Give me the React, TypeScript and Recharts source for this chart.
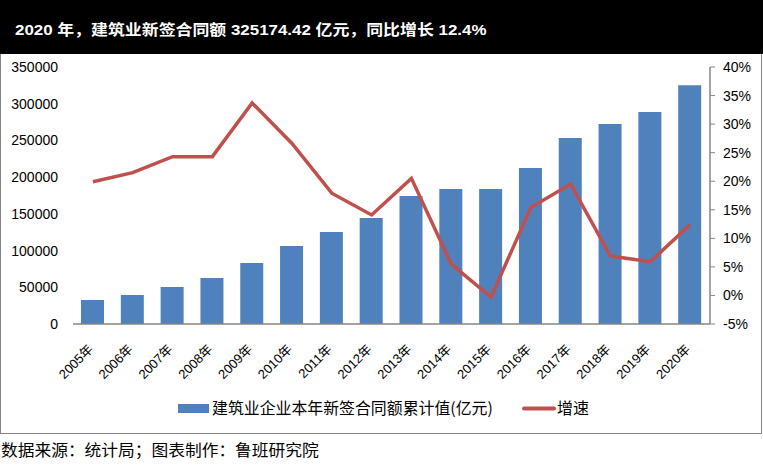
import React, { useLayoutEffect, useRef, useState } from "react";
import { ComposedChart, Bar, Line, XAxis, YAxis } from "recharts";

const years = [
  "2005年", "2006年", "2007年", "2008年", "2009年", "2010年", "2011年", "2012年",
  "2013年", "2014年", "2015年", "2016年", "2017年", "2018年", "2019年", "2020年",
];
// 建筑业企业本年新签合同额累计值(亿元)
const contractValues = [
  32700, 39500, 50400, 62600, 83100, 106200, 125300, 144400,
  174300, 184000, 183800, 212400, 253300, 272400, 288700, 325174.42,
];
// 增速 (%)
const growthRates = [
  19.9, 21.5, 24.3, 24.3, 33.7, 26.6, 17.9, 14.1,
  20.5, 5.5, -0.3, 15.4, 19.5, 6.9, 5.9, 12.4,
];
const leftTicks = [0, 50000, 100000, 150000, 200000, 250000, 300000, 350000];
const rightTicks = [-5, 0, 5, 10, 15, 20, 25, 30, 35, 40];

const title = "2020 年，建筑业新签合同额 325174.42 亿元，同比增长 12.4%";
const barName = "建筑业企业本年新签合同额累计值(亿元)";
const lineName = "增速";
const source = "数据来源：统计局；图表制作：鲁班研究院";

const data = years.map((year, i) => ({
  year,
  value: contractValues[i],
  rate: growthRates[i],
}));

const BLUE = "#4F81BD";
const RED = "#C0504D";
const AXIS = "#868686";
const FONT = "'Liberation Sans', 'Noto Sans CJK SC', sans-serif";
const CJK = "'Noto Sans CJK SC', sans-serif";

// svg text squeezed/stretched horizontally to a measured width
function FitText({ x, y, width, children, ...rest }: any) {
  const ref = useRef<SVGTextElement>(null);
  const [sx, setSx] = useState(1);
  useLayoutEffect(() => {
    if (ref.current) {
      const w = ref.current.getComputedTextLength();
      if (w > 0) setSx(width / w);
    }
  }, [width, children]);
  return (
    <text
      ref={ref}
      x={x}
      y={y}
      transform={`translate(${x},0) scale(${sx},1) translate(${-x},0)`}
      {...rest}
    >
      {children}
    </text>
  );
}

function YearTick({ x, y, payload }: any) {
  return (
    <g transform={`translate(${x + 1},${y + 18})`}>
      <text
        x={0}
        y={0}
        transform="rotate(-45)"
        textAnchor="end"
        fontSize={13}
        fontFamily={FONT}
        fill="#000"
      >
        {payload.value}
      </text>
    </g>
  );
}

export default function App() {
  return (
    <div
      style={{
        position: "absolute",
        left: 0,
        top: 0,
        width: 763,
        height: 466,
        background: "#fff",
      }}
    >
      <div
        style={{
          position: "absolute",
          left: 0,
          top: 0,
          width: 762,
          height: 434,
          border: `1px solid ${AXIS}`,
          boxSizing: "border-box",
        }}
      />
      <svg
        width={763}
        height={466}
        style={{ position: "absolute", left: 0, top: 0 }}
      >
        <rect x={0} y={0} width={763} height={54} fill="#000" />
        <FitText
          x={15}
          y={35}
          width={472}
          fill="#fff"
          fontSize={15}
          fontWeight="bold"
          fontFamily={FONT}
        >
          {title}
        </FitText>

        {/* legend */}
        <rect x={178} y={404} width={31} height={9} fill={BLUE} />
        <FitText x={212} y={414} width={281} fontSize={16} fontFamily={CJK} fill="#000">
          {barName}
        </FitText>
        <line x1={524} y1={408.5} x2={554} y2={408.5} stroke={RED} strokeWidth={4} strokeLinecap="round" />
        <FitText x={557} y={414} width={32} fontSize={16} fontFamily={CJK} fill="#000">
          {lineName}
        </FitText>

        <FitText x={1} y={456} width={318} fontSize={16} fontFamily={CJK} fill="#000">
          {source}
        </FitText>
      </svg>

      <div style={{ position: "absolute", left: 0, top: 54 }}>
        <ComposedChart
          width={763}
          height={380}
          data={data}
          margin={{ top: 13, right: 0, bottom: 50, left: 0 }}
        >
          <XAxis
            dataKey="year"
            height={60}
            interval={0}
            tickLine={false}
            axisLine={{ stroke: AXIS, strokeWidth: 1.5 }}
            tick={<YearTick />}
          />
          <YAxis
            yAxisId="left"
            width={73}
            domain={[0, 350000]}
            ticks={leftTicks}
            interval={0}
            axisLine={false}
            tickLine={false}
            tickSize={6}
            tickMargin={9}
            tick={{ fontSize: 14, fontFamily: FONT, fill: "#000" }}
          />
          <YAxis
            yAxisId="right"
            orientation="right"
            width={53}
            domain={[-5, 40]}
            ticks={rightTicks}
            interval={0}
            axisLine={{ stroke: AXIS, strokeWidth: 1.5 }}
            tickLine={{ stroke: AXIS }}
            tickSize={5}
            tickMargin={8}
            tickFormatter={(v) => `${v}%`}
            tick={{ fontSize: 14, fontFamily: FONT, fill: "#000", textAnchor: "start" }}
          />
          <Bar
            yAxisId="left"
            dataKey="value"
            name={barName}
            fill={BLUE}
            barSize={23}
            isAnimationActive={false}
          />
          <Line
            yAxisId="right"
            type="linear"
            dataKey="rate"
            name={lineName}
            stroke={RED}
            strokeWidth={3.5}
            dot={false}
            activeDot={false}
            isAnimationActive={false}
          />
        </ComposedChart>
      </div>
    </div>
  );
}
